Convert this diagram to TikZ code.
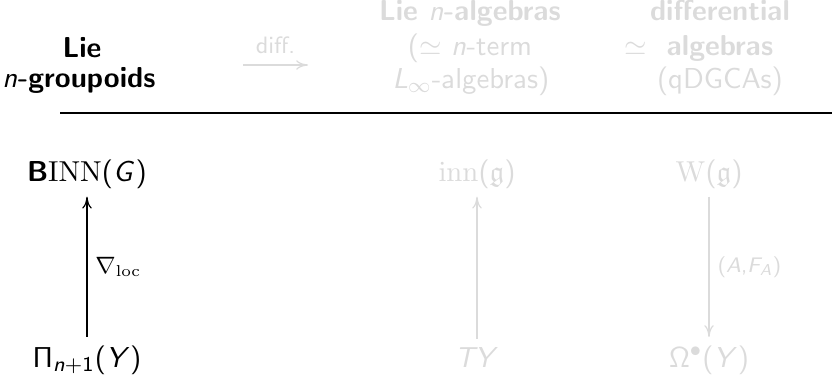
\documentclass[tikz,border=0pt]{standalone}
\usepackage{amssymb}
\usetikzlibrary{arrows.meta}
\DeclareSymbolFont{operators}{OT1}{cmss}{m}{n}
\DeclareSymbolFont{letters}{OT1}{cmss}{m}{sl}
\DeclareMathAlphabet{\mathserif}{OT1}{cmr}{m}{n}
\DeclareMathAlphabet{\mathsfbold}{OT1}{cmss}{bx}{n}
\mathcode`\,="002C
\renewcommand{\familydefault}{\sfdefault}
\newcommand{\hdbold}{\fontencoding{OT1}\fontfamily{cmss}\fontseries{bx}\selectfont}
\newcommand{\hdreg}{\fontencoding{OT1}\fontfamily{cmss}\fontseries{m}\selectfont}
\colorlet{faded}{black!14}
\begin{document}
\begin{tikzpicture}[x=0.38pt,y=-0.38pt,
  every node/.style={font=\fontsize{11}{13}\selectfont\hdreg, inner sep=3pt},
  txt/.style={anchor=base},
  hd/.style={anchor=base, font=\fontsize{11}{13}\selectfont\hdbold},
  lab/.style={font=\fontsize{8.5}{10}\selectfont\hdreg},
  ar/.style={-{Computer Modern Rightarrow[length=4.5pt,width=3.6pt]}, line width=0.45pt}]
\useasboundingbox (0,0) rectangle (832,376);
% header column 1
\node[hd] (h1a) at (82,57) {Lie};
\node[hd] (h1b) at (79,87) {\hdreg$n$\hdbold-groupoids};
% diff arrow
\coordinate (d1) at (243,65);
\coordinate (d2) at (308,65);
\draw[ar, faded] (d1) -- node[above=1pt, font=\fontsize{9.5}{11}\selectfont\hdreg, text=faded] (dl) {diff.} (d2);
% header column 3
\node[hd, text=faded] (h3a) at (470,20) {Lie \hdreg$n$\hdbold-algebras};
\node[txt, text=faded] (h3b) at (470,55) {($\simeq$ $n$-term};
\node[txt, text=faded] (h3c) at (471,88) {$L_\infty$-algebras)};
% header column 4
\node[hd, text=faded] (h4a) at (720,20) {differential};
\node[txt, text=faded] (sim) at (636,55) {$\simeq$};
\node[hd, text=faded] (h4b) at (720,55) {algebras};
\node[txt, text=faded] (h4c) at (720,88) {(qDGCAs)};
% rule
\coordinate (r1) at (60,113);
\coordinate (r2) at (832,113);
\draw[line width=0.5pt] (r1) -- (r2);
% lower row
\node[txt] (binn) at (87,181) {$\mathsfbold{B}\mathserif{INN}(G)$};
\node[txt] (pi) at (87,367) {$\Pi_{n+1}(Y)$};
\draw[ar] (pi) -- node[right, font=\fontsize{9}{11}\selectfont] (nab) {$\nabla_{\mathserif{loc}}$} (binn);
\node[txt, text=faded] (inn) at (477,181) {$\mathserif{inn}(\mathfrak{g})$};
\node[txt, text=faded] (ty) at (477,367) {$TY$};
\draw[ar, faded] (ty) -- (inn);
\node[txt, text=faded] (w) at (709,181) {$\mathserif{W}(\mathfrak{g})$};
\node[txt, text=faded] (om) at (709,367) {$\Omega^\bullet(Y)$};
\draw[ar, faded] (w) -- node[right, lab, text=faded] (af) {$(A,F_A)$} (om);
\end{tikzpicture}
\end{document}
